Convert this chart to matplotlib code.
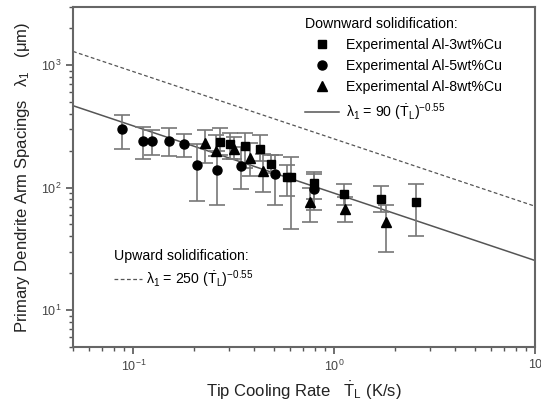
import numpy as np
import matplotlib
matplotlib.use("Agg")
import matplotlib.pyplot as plt
from matplotlib.lines import Line2D

plt.rcParams['font.family'] = ['Liberation Sans', 'DejaVu Sans']
plt.rcParams['mathtext.fontset'] = 'custom'
plt.rcParams['mathtext.rm'] = 'Liberation Sans'
plt.rcParams['mathtext.it'] = 'Liberation Sans'
plt.rcParams['mathtext.bf'] = 'Liberation Sans:bold'

# Al-3wt%Cu (squares)
x_3cu = [0.271, 0.301, 0.358, 0.425, 0.486, 0.581, 0.608, 0.79, 1.12, 1.70, 2.55]
y_3cu = [235, 226, 217, 208, 156, 122, 122, 109, 88, 81, 77]
lo_3cu = [185, 171, 145, 165, 132, 85, 46, 80, 72, 63, 40]
hi_3cu = [305, 278, 278, 270, 185, 154, 178, 134, 108, 103, 108]

# Al-5wt%Cu (circles)
x_5cu = [0.088, 0.111, 0.124, 0.151, 0.179, 0.207, 0.261, 0.342, 0.505, 0.79]
y_5cu = [300, 242, 242, 242, 226, 154, 140, 149, 129, 98]
lo_5cu = [208, 173, 185, 182, 178, 78, 72, 98, 72, 66]
hi_5cu = [390, 315, 294, 305, 276, 226, 200, 216, 185, 130]

# Al-8wt%Cu (triangles)
x_8cu = [0.226, 0.257, 0.316, 0.382, 0.442, 0.76, 1.13, 1.81]
y_8cu = [233, 201, 206, 175, 136, 76, 67, 52]
lo_8cu = [160, 180, 170, 124, 92, 52, 52, 30]
hi_8cu = [296, 270, 260, 230, 188, 100, 84, 72]

# fitted laws  lambda1 = C * T^-0.55
c_down = 90
c_up = 250
expo = -0.55
x_fit = np.array([0.05, 10])

fig = plt.figure(figsize=(5.41, 4.08), dpi=100)
ax = fig.add_axes([0.135, 0.15, 0.854, 0.833])

ebar = dict(ls='none', ecolor='#777777', elinewidth=1.2, capsize=5.5,
            capthick=1.2, mfc='black', mec='black', zorder=3)

for xs, ys, lo, hi, mk, ms in [(x_5cu, y_5cu, lo_5cu, hi_5cu, 'o', 6.5),
                               (x_3cu, y_3cu, lo_3cu, hi_3cu, 's', 5.5),
                               (x_8cu, y_8cu, lo_8cu, hi_8cu, '^', 6.5)]:
    ys = np.array(ys)
    err = [ys - np.array(lo), np.array(hi) - ys]
    ax.errorbar(xs, ys, yerr=err, fmt=mk, ms=ms, **ebar)

ax.plot(x_fit, c_down * x_fit ** expo, color='#555555', lw=1.1, zorder=2)
ax.plot(x_fit, c_up * x_fit ** expo, color='#555555', lw=0.9,
        ls=(0, (3, 2)), zorder=2)

ax.set_xscale('log')
ax.set_yscale('log')
ax.set_xlim(0.05, 10)
ax.set_ylim(5, 3000)
ax.set_xticks([0.1, 1, 10])
ax.set_xticklabels([r'$10^{-1}$', r'$10^{0}$', '10'])
ax.set_yticks([10, 100, 1000])
ax.set_yticklabels([r'$10^{1}$', r'$10^{2}$', r'$10^{3}$'])

for s in ax.spines.values():
    s.set_color('#666666')
    s.set_linewidth(1.5)
ax.tick_params(which='major', direction='out', length=5, width=1.2,
               color='#555555', labelsize=9, labelcolor='#444444')
ax.tick_params(which='minor', direction='out', length=3, width=1.0,
               color='#555555')

ax.set_xlabel(r'Tip Cooling Rate   $\dot{\mathrm{T}}_{\mathrm{L}}$ (K/s)',
              fontsize=12, color='#222222', labelpad=4)
ax.set_ylabel(r'Primary Dendrite Arm Spacings   $\lambda_1$   ($\mu$m)',
              fontsize=12, color='#222222', labelpad=6)

h_down = [
    Line2D([], [], ls='none', marker='s', ms=5.5, color='black'),
    Line2D([], [], ls='none', marker='o', ms=6.5, color='black'),
    Line2D([], [], ls='none', marker='^', ms=6.5, color='black'),
    Line2D([], [], color='#555555', lw=1.1),
]
lab_down = ['Experimental Al-3wt%Cu', 'Experimental Al-5wt%Cu',
            'Experimental Al-8wt%Cu',
            r'$\lambda_1$ = 90 ($\dot{\mathrm{T}}_{\mathrm{L}}$)$^{-0.55}$']
leg1 = ax.legend(h_down, lab_down, title='Downward solidification:',
                 loc='upper left', bbox_to_anchor=(0.48, 1.0), frameon=False,
                 fontsize=10.2, title_fontsize=10.2, alignment='left',
                 handlelength=2.4, handletextpad=0.5, labelspacing=0.5,
                 borderaxespad=0.3)
ax.add_artist(leg1)

h_up = [Line2D([], [], color='#555555', lw=0.9, ls=(0, (3, 2)))]
lab_up = [r'$\lambda_1$ = 250 ($\dot{\mathrm{T}}_{\mathrm{L}}$)$^{-0.55}$']
ax.legend(h_up, lab_up, title='Upward solidification:',
          loc='upper left', bbox_to_anchor=(0.06, 0.325), frameon=False,
          fontsize=10.2, title_fontsize=10.2, alignment='left',
          handlelength=2.0, handletextpad=0.3, labelspacing=0.4)

fig.savefig('out.png', dpi=100)
